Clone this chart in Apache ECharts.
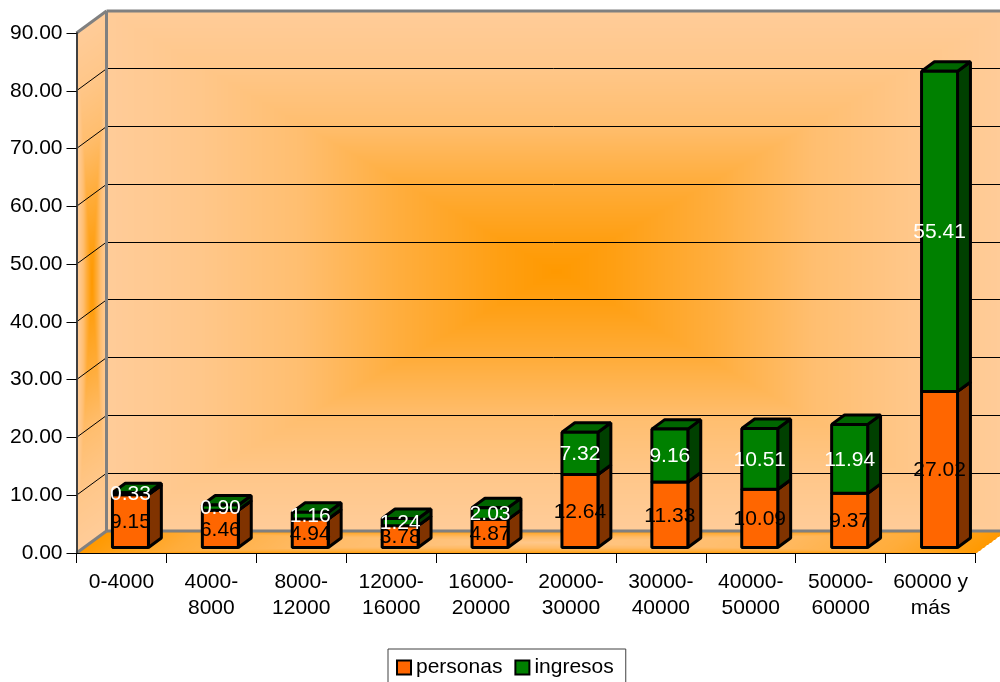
<!DOCTYPE html>
<html>
<head>
<meta charset="utf-8">
<style>html,body{margin:0;padding:0;background:#fff}#c{width:1000px;height:682px;overflow:hidden}</style>
<script src="https://cdn.jsdelivr.net/npm/echarts@6/dist/echarts.min.js"></script>
</head>
<body>
<div id="c"></div>
<script>
// Income brackets and their share of people and of income
var categories = ['0-4000', '4000-\n8000', '8000-\n12000', '12000-\n16000', '16000-\n20000',
  '20000-\n30000', '30000-\n40000', '40000-\n50000', '50000-\n60000', '60000 y\nmás'];
var personas = [9.15, 6.46, 4.94, 3.78, 4.87, 12.64, 11.33, 10.09, 9.37, 27.02];
var ingresos = [0.33, 0.90, 1.16, 1.24, 2.03, 7.32, 9.16, 10.51, 11.94, 55.41];
var yTicks = [0, 10, 20, 30, 40, 50, 60, 70, 80, 90];

// Oblique projection used for the box: screen shift from front plane to back wall
var DEPTH_X = 30, DEPTH_Y = -22;
var BAR_INSET_X = 9, BAR_INSET_Y = -5.5;   // how far back the bars stand on the floor
var BAR_DEPTH = 0.43;                      // bar depth as a share of the box depth
var BAR_WIDTH = 36;
var FAMILY = '"Liberation Sans", Arial, sans-serif';
var FONT = '21px ' + FAMILY;

function interp(table, t) {
  t = Math.min(1, Math.abs(t));
  for (var i = 1; i < table.length; i++) {
    if (t <= table[i][0]) {
      var a = table[i - 1], b = table[i];
      return a[1] + (b[1] - a[1]) * (t - a[0]) / (b[0] - a[0]);
    }
  }
  return 0;
}
// Rectangular path gradients: contours follow the edges of each panel
var WALL_RAMP = [[0, 1], [0.125, 0.88], [0.35, 0.6], [0.57, 0.27], [0.79, 0.1], [1, 0]];
var FLOOR_RAMP = [[0, 0.1], [0.5, 0.33], [0.8, 0.62], [1, 1]];
function rectPath(ramp, u, v) { return interp(ramp, Math.max(Math.abs(u), Math.abs(v))); }

// Paints the walls and floor of the box into one texture: peach to orange
function buildWallTexture(w, h, boxW, boxH) {
  w = Math.ceil(w); h = Math.ceil(h);
  var cv = document.createElement('canvas');
  cv.width = w; cv.height = h;
  var ctx = cv.getContext('2d');
  var img = ctx.createImageData(w, h);
  var dx = DEPTH_X, dy = -DEPTH_Y;
  for (var py = 0; py < h; py++) {
    for (var px = 0; px < w; px++) {
      var I = -1;
      if (py >= h - dy) {
        // floor: pale in the middle, orange towards its edges
        var d = (h - py) / dy;
        if (px >= d * dx && px <= boxW + d * dx) {
          I = rectPath(FLOOR_RAMP, (px - d * dx) / boxW * 2 - 1, d * 2 - 1);
        }
      }
      if (I < 0 && px < dx) {
        // left wall, sheared along the depth direction
        var f = px / dx;
        var yy = py - dy + f * dy;
        if (yy >= 0 && yy <= boxH) {
          I = rectPath(WALL_RAMP, f * 2 - 1, yy / boxH * 2 - 1);
        }
      }
      if (I < 0 && px >= dx && py < h - dy) {
        I = rectPath(WALL_RAMP, (px - dx) / boxW * 2 - 1, py / boxH * 2 - 1);
      }
      if (I >= 0) {
        var k = (py * w + px) * 4;
        img.data[k] = 255;
        img.data[k + 1] = 204 - 51 * I;
        img.data[k + 2] = 153 - 153 * I;
        img.data[k + 3] = 255;
      }
    }
  }
  ctx.putImageData(img, 0, 0);
  return cv;
}

var wallTexture = null;

function renderBox(params, api) {
  var cs = params.coordSys;
  var x0 = cs.x, x1 = cs.x + cs.width;
  var y0 = api.coord([0, 0])[1], yTop = api.coord([0, yTicks[yTicks.length - 1]])[1];
  var texW = cs.width + DEPTH_X, texH = y0 - yTop - DEPTH_Y;
  if (!wallTexture) wallTexture = buildWallTexture(texW, texH, cs.width, y0 - yTop);
  var children = [{
    type: 'image',
    style: { image: wallTexture, x: x0, y: yTop + DEPTH_Y, width: texW, height: texH }
  }];
  yTicks.forEach(function (t) {
    var y = api.coord([0, t])[1];
    if (t > 0 && t < yTicks[yTicks.length - 1]) {
      var by = Math.floor(y + DEPTH_Y) + 0.5;
      children.push({ type: 'line', shape: { x1: x0, y1: y, x2: x0 + DEPTH_X, y2: y + DEPTH_Y },
        style: { stroke: '#000', lineWidth: 1 } });
      children.push({ type: 'line', shape: { x1: x0 + DEPTH_X, y1: by, x2: x1 + DEPTH_X, y2: by },
        style: { stroke: '#000', lineWidth: 1 } });
    }
  });
  var edge = { stroke: '#808080', lineWidth: 3 };
  var bx = x0 + DEPTH_X;
  [[x0, yTop, bx, yTop + DEPTH_Y], [bx, yTop + DEPTH_Y, x1 + DEPTH_X, yTop + DEPTH_Y],
   [bx, yTop + DEPTH_Y, bx, y0 + DEPTH_Y], [bx, y0 + DEPTH_Y, x1 + DEPTH_X, y0 + DEPTH_Y],
   [x0, y0, bx, y0 + DEPTH_Y]].forEach(function (s) {
    children.push({ type: 'line', shape: { x1: s[0], y1: s[1], x2: s[2], y2: s[3] }, style: edge });
  });
  return { type: 'group', children: children };
}

// One stacked segment: front, side and top faces plus its value label
function renderSegment(colors, textColor) {
  return function (params, api) {
    var idx = api.value(0), base = api.value(1), val = api.value(2);
    var p0 = api.coord([idx, base]), p1 = api.coord([idx, base + val]);
    var ddx = DEPTH_X * BAR_DEPTH, ddy = DEPTH_Y * BAR_DEPTH;
    var l = p0[0] + BAR_INSET_X - BAR_WIDTH / 2, r = l + BAR_WIDTH;
    var b = p0[1] + BAR_INSET_Y, t = p1[1] + BAR_INSET_Y;
    function face(pts, fill) {
      return { type: 'polygon', shape: { points: pts },
        style: { fill: fill, stroke: '#000', lineWidth: 3, lineJoin: 'bevel' } };
    }
    return { type: 'group', children: [
      face([[r, b], [r + ddx, b + ddy], [r + ddx, t + ddy], [r, t]], colors.side),
      face([[l, t], [r, t], [r + ddx, t + ddy], [l + ddx, t + ddy]], colors.top),
      face([[l, b], [r, b], [r, t], [l, t]], colors.front),
      { type: 'text', z2: 100, style: {
        text: val.toFixed(2), x: (l + r) / 2, y: (t + b) / 2 + 1,
        textAlign: 'center', textVerticalAlign: 'middle', fill: textColor, font: FONT } }
    ] };
  };
}

function stackedRows(values, below) {
  return values.map(function (v, i) { return [i, below ? below[i] : 0, v]; });
}

var chart = echarts.init(document.getElementById('c'));
chart.setOption({
  animation: false,
  backgroundColor: '#fff',
  grid: { left: 76.5, right: 24.5, top: 33, bottom: 129 },
  xAxis: {
    type: 'category', data: categories,
    axisLine: { show: true, lineStyle: { color: '#000', width: 1 } },
    axisTick: { show: true, alignWithLabel: false, length: 10, lineStyle: { color: '#000' } },
    axisLabel: { interval: 0, color: '#000', fontSize: 21, fontFamily: FAMILY, lineHeight: 26, margin: 16 },
    splitLine: { show: false }
  },
  yAxis: {
    type: 'value', min: 0, max: 90, interval: 10,
    axisLine: { show: true, lineStyle: { color: '#404040', width: 2 } },
    axisTick: { show: true, length: 10, lineStyle: { color: '#000' } },
    axisLabel: { color: '#000', fontSize: 21, fontFamily: FAMILY, margin: 14,
      formatter: function (v) { return v.toFixed(2); } },
    splitLine: { show: false }
  },
  legend: {
    data: ['personas', 'ingresos'],
    left: 388, top: 649,
    padding: [8, 12, 10, 8],
    itemGap: 12, itemWidth: 14, itemHeight: 14,
    icon: 'rect',
    borderColor: '#404040', borderWidth: 1,
    itemStyle: { borderColor: '#000', borderWidth: 2 },
    textStyle: { color: '#000', fontSize: 21, fontFamily: FAMILY }
  },
  series: [
    { name: 'box', type: 'custom', z: 0, silent: true, clip: false, data: [[0]], renderItem: renderBox,
      encode: { x: 0 } },
    { name: 'personas', type: 'custom', z: 3, silent: true, clip: false, itemStyle: { color: '#FF6600' },
      data: stackedRows(personas), encode: { x: 0, y: [1, 2] },
      renderItem: renderSegment({ front: '#FF6600', side: '#803300', top: '#CC5200' }, '#000') },
    { name: 'ingresos', type: 'custom', z: 3, silent: true, clip: false, itemStyle: { color: '#008000' },
      data: stackedRows(ingresos, personas), encode: { x: 0, y: [1, 2] },
      renderItem: renderSegment({ front: '#008000', side: '#004000', top: '#006600' }, '#fff') }
  ]
});
</script>
</body>
</html>
